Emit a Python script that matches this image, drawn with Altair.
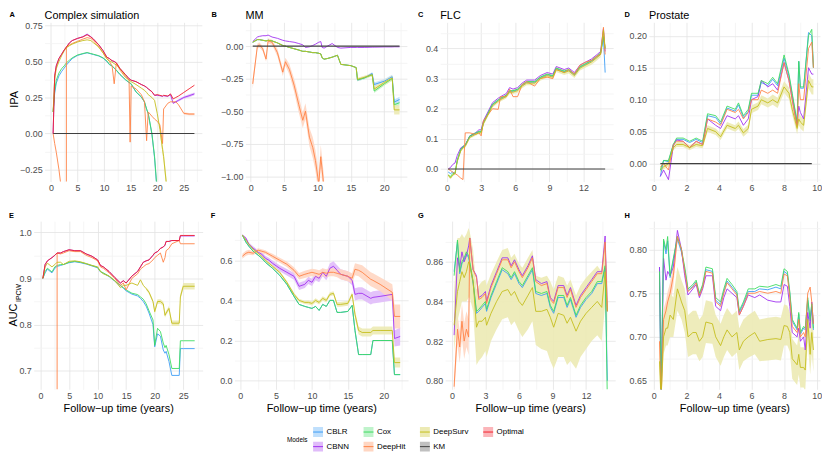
import json
import altair as alt
import pandas as pd

FONT = "Liberation Sans"
MODELS = ["CBLR", "CBNN", "Cox", "DeepHit", "DeepSurv", "KM", "Optimal"]
COLORS = ["#3d9df5", "#a030f0", "#3ddc60", "#ff8245", "#c4be1c", "#404040", "#f2202c"]
LEGEND_ORDER = ["CBLR", "Cox", "DeepSurv", "Optimal", "CBNN", "DeepHit", "KM"]
XTITLE = "Follow\u2212up time (years)"

# ---------------- Panel A : Complex simulation, IPA ----------------
T_A = [0.4, 0.7, 1.0, 1.5, 2.0, 2.5, 2.9, 2.9, 3.5, 4.0, 5.0, 6.0, 6.8, 7.5, 8.0, 9.0, 9.8, 10.5, 11.0, 11.5,
       11.9, 12.3, 13.0, 14.0, 14.7, 14.9, 15.1, 16.0, 17.0, 17.6, 18.0, 18.3, 19.0, 19.5, 20.0, 20.5, 21.0, 21.2,
       22.0, 22.5, 23.0, 23.5, 24.0, 25.0, 26.0, 27.0]
A_OPT = [0.0, 0.40, 0.47, 0.52, 0.55, 0.58, 0.60, 0.60, 0.63, 0.645, 0.66, 0.67, 0.685, 0.67, 0.655, 0.615, 0.575,
         0.53, 0.52, 0.505, 0.50, 0.49, 0.45, 0.41, 0.38, 0.375, 0.37, 0.36, 0.34, 0.33, 0.32, 0.31, 0.29, 0.265,
         0.27, 0.265, 0.26, 0.265, 0.26, 0.275, 0.24, 0.25, 0.26, 0.285, 0.31, 0.335]
A_CBNN = [0.0, 0.40, 0.47, 0.52, 0.55, 0.58, 0.60, 0.60, 0.63, 0.645, 0.66, 0.672, 0.69, 0.672, 0.655, 0.615, 0.575,
          0.53, 0.52, 0.505, 0.50, 0.49, 0.45, 0.41, 0.38, 0.375, 0.37, 0.36, 0.34, 0.33, 0.32, 0.31, 0.29, 0.265,
          0.265, 0.262, 0.258, 0.262, 0.258, 0.27, 0.21, 0.22, 0.23, 0.25, 0.262, 0.275]
A_COX = [0.15, 0.30, 0.37, 0.42, 0.45, 0.47, 0.49, 0.49, 0.51, 0.525, 0.545, 0.555, 0.562, 0.555, 0.55, 0.54, 0.525,
         0.505, 0.48, 0.47, 0.455, 0.44, 0.41, 0.375, 0.355, 0.35, 0.345, 0.29, 0.255, 0.22, 0.17, 0.14, 0.0, -0.16,
         -0.40, None, None, None, None, None, None, None, None, None, None, None]
A_CBLR = [0.15, 0.28, 0.35, 0.40, 0.43, 0.455, 0.475, 0.475, 0.50, 0.52, 0.542, 0.553, 0.56, 0.553, 0.548, 0.538,
          0.523, 0.50, 0.478, 0.468, 0.453, 0.438, 0.408, 0.373, 0.353, 0.348, 0.343, 0.288, 0.253, 0.218, 0.168,
          0.138, -0.005, -0.17, -0.42, None, None, None, None, None, None, None, None, None, None, None]
A_DS = [0.15, 0.38, 0.45, 0.50, 0.54, 0.575, 0.595, 0.595, 0.61, 0.62, 0.635, 0.645, 0.65, 0.645, 0.63, 0.60, 0.56,
        0.52, 0.505, 0.495, 0.485, 0.475, 0.45, 0.40, 0.37, 0.365, 0.36, 0.34, 0.315, 0.30, 0.285, 0.27, 0.25, 0.23,
        0.14, 0.03, -0.11, -0.16, -0.45, None, None, None, None, None, None, None]
A_DH = [0.0, -0.07, -0.13, -0.25, -0.40, -0.55, -0.60, 0.60, 0.615, 0.625, 0.64, 0.655, 0.665, 0.66, 0.645, 0.60,
        0.56, 0.52, 0.50, 0.47, 0.345, 0.49, 0.44, 0.39, 0.37, -0.06, 0.33, 0.31, 0.27, 0.22, -0.05, 0.15, 0.12,
        0.10, 0.085, 0.06, -0.07, 0.17, 0.21, 0.22, 0.22, 0.22, 0.20, 0.14, 0.135, 0.135]
A_KM_T = [0.4, 27.0]
A_KM = [0.0, 0.0]
A_CBNN_HW = [0.004, 0.006, 0.007, 0.008, 0.009, 0.01, 0.01]          # from index 39
A_DS_HW = [0.03, 0.03, 0.04, 0.05]                                    # from index 35
A_DH_HW = [0.008, 0.008, 0.008]                                       # from index 43

# ---------------- Panel B : MM, IPA ----------------
T_B = [0.3, 1.0, 1.3, 1.8, 2.3, 2.6, 3.2, 4.0, 4.8, 5.2, 5.8, 6.5, 7.2, 7.8, 8.2, 8.8, 9.3, 9.7, 10.2, 10.5, 10.7,
       11.0, 11.5, 12.2, 13.0, 13.5, 15.0, 15.8, 16.0, 17.0, 18.2, 18.5, 20.0, 21.2, 21.5, 22.3]
B_CBNN = [0.035, 0.07, 0.075, 0.08, 0.08, 0.085, 0.07, 0.06, 0.045, 0.04, 0.035, 0.03, 0.02, 0.01, -0.01, -0.005,
          0.005, 0.015, 0.03, 0.035, -0.01, -0.015, 0.0, 0.02, -0.01, -0.015, -0.01, -0.01, -0.01, -0.01, -0.008,
          -0.008, -0.006, -0.006, -0.005, -0.005]
B_COX = [0.03, 0.05, 0.05, 0.045, 0.04, 0.045, 0.04, 0.025, 0.005, 0.0, -0.01, -0.02, -0.03, -0.04, -0.04, -0.045,
         -0.05, -0.05, -0.055, -0.06, -0.09, -0.10, -0.095, -0.085, -0.07, -0.14, -0.15, -0.165, -0.26, -0.245,
         -0.22, -0.345, -0.29, -0.25, -0.45, -0.435]
B_CBLR = [0.03, 0.05, 0.05, 0.045, 0.04, 0.045, 0.04, 0.025, 0.005, 0.0, -0.01, -0.02, -0.03, -0.04, -0.04, -0.045,
          -0.05, -0.05, -0.055, -0.06, -0.09, -0.10, -0.095, -0.085, -0.07, -0.14, -0.15, -0.165, -0.26, -0.245,
          -0.21, -0.295, -0.27, -0.235, -0.43, -0.41]
B_DS = [0.03, 0.05, 0.05, 0.045, 0.04, 0.045, 0.04, 0.025, 0.005, 0.0, -0.01, -0.02, -0.03, -0.04, -0.04, -0.045,
        -0.05, -0.05, -0.055, -0.06, -0.09, -0.10, -0.095, -0.085, -0.07, -0.14, -0.15, -0.165, -0.255, -0.24,
        -0.22, -0.33, -0.28, -0.245, -0.49, -0.49]
B_DH = [-0.29, 0.0, 0.01, -0.02, -0.10, 0.04, 0.03, -0.05, -0.20, -0.12, -0.18, -0.30, -0.45, -0.57, -0.50, -0.70,
        -0.78, -0.88, -1.06, -0.85, -0.95, -1.10, None, None, None, None, None, None, None, None, None, None, None,
        None, None, None]
B_DH_HW = [0.04, 0.02, 0.02, 0.02, 0.02, 0.02, 0.02, 0.03, 0.03, 0.03, 0.04, 0.05, 0.06, 0.06, 0.06, 0.07, 0.08,
           0.08, 0.09, 0.09, 0.09, 0.09]                              # from index 0
B_COX_HW = [0.01, 0.01, 0.01, 0.015, 0.015, 0.015, 0.02, 0.02]        # from index 28
B_DS_HW = [0.012, 0.012, 0.012, 0.02, 0.02, 0.02, 0.035, 0.035]       # from index 28
B_KM_T = [0.3, 22.3]
B_KM = [0.0, 0.0]

# ---------------- Panel C : FLC, IPA ----------------
T_C = [0.1, 0.3, 0.5, 0.7, 0.9, 1.2, 1.4, 1.6, 2.0, 2.5, 2.8, 3.0, 3.2, 3.6, 4.0, 4.5, 4.7, 5.2, 5.5, 5.8, 6.2, 6.6,
       7.0, 7.7, 8.2, 8.8, 9.3, 9.6, 10.3, 10.7, 11.2, 11.7, 12.2, 12.7, 13.2, 13.5, 13.75, 13.9]
C_CBNN = [0.0, 0.005, 0.015, 0.02, 0.045, 0.07, 0.075, 0.08, 0.11, 0.12, 0.13, 0.13, 0.16, 0.19, 0.22, 0.235, 0.24,
          0.25, 0.27, 0.265, 0.27, 0.285, 0.295, 0.295, 0.31, 0.32, 0.315, 0.34, 0.33, 0.335, 0.32, 0.345, 0.355,
          0.365, 0.38, 0.39, 0.465, 0.39]
C_COX = [-0.02, -0.025, -0.015, -0.015, 0.03, 0.065, 0.075, 0.08, 0.11, 0.12, 0.125, 0.125, 0.155, 0.185, 0.215,
         0.23, 0.235, 0.245, 0.26, 0.26, 0.265, 0.28, 0.29, 0.29, 0.305, 0.315, 0.31, 0.335, 0.325, 0.33, 0.315,
         0.34, 0.35, 0.36, 0.375, 0.385, 0.44, 0.40]
C_CBLR = [-0.01, -0.015, -0.01, -0.015, 0.028, 0.063, 0.073, 0.078, 0.108, 0.118, 0.123, 0.123, 0.153, 0.183,
          0.213, 0.228, 0.233, 0.243, 0.258, 0.258, 0.263, 0.278, 0.288, 0.288, 0.303, 0.313, 0.308, 0.333, 0.323,
          0.328, 0.313, 0.338, 0.348, 0.358, 0.373, 0.383, 0.435, 0.32]
C_DS = [-0.02, -0.03, -0.02, -0.015, 0.025, 0.06, 0.07, 0.075, 0.105, 0.115, 0.12, 0.12, 0.15, 0.18, 0.21, 0.225,
        0.23, 0.24, 0.255, 0.255, 0.26, 0.275, 0.285, 0.285, 0.30, 0.31, 0.305, 0.33, 0.32, 0.325, 0.31, 0.335,
        0.345, 0.355, 0.37, 0.38, 0.46, 0.40]
C_DS_HW = [0.004, 0.004, 0.004, 0.004, 0.004, 0.004, 0.004, 0.004, 0.005, 0.005, 0.005, 0.005, 0.005, 0.006,
           0.006, 0.006, 0.006, 0.006, 0.006, 0.006, 0.007, 0.007, 0.007, 0.007, 0.007, 0.007, 0.007, 0.008, 0.008,
           0.008, 0.008, 0.008, 0.008, 0.009, 0.009, 0.009, 0.012, 0.012]
C_DH = [0.0, -0.005, -0.01, -0.015, -0.02, -0.03, -0.035, 0.12, 0.12, 0.115, 0.12, 0.11, 0.16, 0.18, 0.20, 0.198,
        0.24, 0.24, 0.265, 0.24, 0.24, 0.28, 0.29, 0.275, 0.30, 0.305, 0.30, 0.33, 0.32, 0.33, 0.315, 0.345, 0.355,
        0.36, 0.375, 0.38, 0.47, 0.38]
C_KM_T = [0.1, 13.9]
C_KM = [0.0, 0.0]

# ---------------- Panel D : Prostate, IPA ----------------
T_D = [0.4, 0.6, 0.9, 1.2, 1.4, 1.8, 2.2, 2.6, 3.0, 3.3, 3.8, 4.1, 4.5, 5.0, 5.2, 5.5, 5.8, 6.0, 6.4, 6.6, 7.0, 7.3,
       7.6, 8.0, 8.3, 8.5, 8.8, 8.9, 9.0, 9.2, 9.5, 9.7, 9.8]
D_COX = [-0.01, 0.005, 0.005, 0.03, 0.04, 0.04, 0.035, 0.04, 0.035, 0.078, 0.075, 0.065, 0.09, 0.085, 0.095, 0.075,
         0.085, 0.11, 0.11, 0.13, 0.125, 0.135, 0.125, 0.17, 0.14, 0.11, 0.065, 0.16, 0.12, 0.12, 0.20, 0.21, 0.15]
D_CBLR = [-0.02, 0.005, 0.003, 0.03, 0.038, 0.038, 0.033, 0.038, 0.033, 0.075, 0.072, 0.062, 0.087, 0.082, 0.092,
          0.072, 0.082, 0.107, 0.107, 0.127, 0.122, 0.132, 0.122, 0.165, 0.137, 0.107, 0.063, 0.16, 0.118, 0.118,
          0.205, 0.20, 0.15]
D_CBNN = [-0.02, -0.01, -0.025, 0.028, 0.037, 0.035, 0.025, 0.035, 0.03, 0.07, 0.06, 0.055, 0.075, 0.07, 0.075,
          0.06, 0.07, 0.10, 0.105, 0.13, 0.12, 0.125, 0.115, 0.158, 0.13, 0.10, 0.06, 0.09, 0.08, 0.07, 0.15, 0.14,
          0.14]
D_DH = [-0.005, 0.0, -0.01, 0.03, 0.035, 0.035, 0.025, 0.035, 0.03, 0.07, 0.065, 0.06, 0.085, 0.08, 0.085, 0.07,
        0.08, 0.10, 0.10, 0.115, 0.11, 0.115, 0.11, 0.158, 0.13, 0.10, 0.058, 0.125, 0.10, 0.10, 0.18, 0.19, 0.15]
D_DS = [-0.01, -0.005, 0.0, 0.025, 0.03, 0.03, 0.025, 0.03, 0.028, 0.055, 0.05, 0.042, 0.06, 0.055, 0.06, 0.048,
        0.055, 0.085, 0.09, 0.10, 0.095, 0.10, 0.095, 0.12, 0.11, 0.085, 0.055, 0.07, 0.065, 0.06, 0.13, 0.12, 0.12]
D_DS_HW = [0.004, 0.004, 0.004, 0.004, 0.004, 0.004, 0.004, 0.004, 0.004, 0.005, 0.005, 0.005, 0.005, 0.005, 0.006,
           0.006, 0.006, 0.006, 0.006, 0.007, 0.007, 0.008, 0.008, 0.009, 0.009, 0.009, 0.009, 0.01, 0.01, 0.01,
           0.012, 0.012, 0.012]
D_KM_T = [0.4, 9.7]
D_KM = [0.0, 0.0]

# ---------------- Panel E : Complex simulation, AUC ----------------
T_E = [0.4, 0.8, 1.2, 2.0, 2.5, 2.9, 2.9, 3.5, 4.0, 5.0, 6.0, 7.0, 8.0, 9.0, 10.0, 10.5, 11.0, 12.0, 13.0, 14.0,
       14.5, 15.0, 16.0, 17.0, 17.5, 18.0, 18.5, 19.0, 19.7, 20.0, 20.5, 21.0, 21.5, 21.8, 22.0, 22.5, 23.0, 24.3,
       24.5, 25.0, 27.0]
E_OPT = [0.90, 0.93, 0.938, 0.945, 0.95, 0.955, 0.955, 0.955, 0.958, 0.962, 0.96, 0.96, 0.953, 0.948, 0.94, 0.928,
         0.925, 0.915, 0.902, 0.89, 0.895, 0.89, 0.905, 0.915, 0.925, 0.935, 0.938, 0.94, 0.95, 0.955, 0.958, 0.965,
         0.968, 0.972, 0.98, 0.98, 0.982, 0.982, 0.993, 0.993, 0.993]
E_CBNN = [0.90, 0.93, 0.938, 0.945, 0.95, 0.955, 0.955, 0.955, 0.958, 0.962, 0.96, 0.96, 0.953, 0.948, 0.94, 0.928,
          0.925, 0.915, 0.902, 0.89, 0.895, 0.89, 0.905, 0.915, 0.925, 0.935, 0.938, 0.94, 0.95, 0.955, 0.958,
          0.965, 0.968, 0.972, 0.98, 0.98, 0.982, 0.982, 0.992, 0.992, 0.992]
E_DH = [None, None, None, None, None, 0.60, 0.955, 0.953, 0.955, 0.96, 0.958, 0.958, 0.95, 0.945, 0.938, 0.925,
        0.922, 0.912, 0.90, 0.885, 0.89, 0.875, 0.90, 0.91, 0.92, 0.925, 0.93, 0.932, 0.94, 0.945, 0.95, 0.955,
        0.935, 0.945, 0.96, 0.965, 0.975, 0.982, 0.975, 0.975, 0.975]
E_DS = [0.90, 0.925, 0.933, 0.925, 0.93, 0.935, 0.935, 0.935, 0.93, 0.937, 0.938, 0.936, 0.932, 0.928, 0.925, 0.915,
        0.91, 0.905, 0.895, 0.88, 0.885, 0.885, 0.89, 0.885, 0.897, 0.885, 0.878, 0.87, 0.85, 0.828, 0.85, 0.85,
        0.845, 0.82, 0.825, 0.835, 0.803, 0.803, 0.86, 0.883, 0.883]
E_DS_HW = [0.003, 0.004, 0.004, 0.005, 0.005, 0.005, 0.005, 0.005, 0.005, 0.005, 0.006, 0.006, 0.006, 0.007, 0.007]
E_COX = [0.90, 0.915, 0.922, 0.914, 0.925, 0.928, 0.928, 0.93, 0.93, 0.935, 0.937, 0.935, 0.932, 0.928, 0.924,
         0.915, 0.912, 0.905, 0.895, 0.885, 0.88, 0.875, 0.868, 0.865, 0.86, 0.855, 0.845, 0.83, 0.81, 0.755, 0.792,
         0.785, 0.76, 0.75, 0.755, 0.735, 0.705, 0.705, 0.765, 0.765, 0.765]
E_CBLR = [0.90, 0.912, 0.92, 0.912, 0.922, 0.926, 0.926, 0.928, 0.93, 0.934, 0.936, 0.934, 0.931, 0.927, 0.923,
          0.914, 0.911, 0.904, 0.894, 0.884, 0.879, 0.873, 0.866, 0.862, 0.857, 0.85, 0.84, 0.825, 0.80, 0.752,
          0.78, 0.775, 0.745, 0.738, 0.742, 0.72, 0.69, 0.69, 0.748, 0.748, 0.748]

# ---------------- Panel F : MM, AUC ----------------
T_F = [0.3, 0.8, 1.2, 1.8, 2.5, 3.0, 3.5, 4.0, 4.5, 5.5, 6.5, 7.5, 8.2, 9.0, 9.5, 10.0, 10.5, 11.0, 11.5, 12.0,
       12.5, 13.0, 13.5, 14.0, 15.0, 15.6, 16.0, 16.5, 17.0, 18.2, 18.5, 19.5, 21.2, 21.5, 22.3]
F_CBNN = [0.725, 0.71, 0.68, 0.66, 0.64, 0.63, 0.61, 0.60, 0.585, 0.56, 0.54, 0.52, 0.47, 0.48, 0.50, 0.49, 0.52,
          0.51, 0.54, 0.52, 0.56, 0.57, 0.55, 0.53, 0.52, 0.50, 0.43, 0.435, 0.435, 0.41, 0.415, 0.42, 0.43, 0.21,
          0.22]
F_CBNN_HW = [0.005, 0.005, 0.008, 0.01, 0.01, 0.012, 0.012, 0.012, 0.014, 0.015, 0.016, 0.017, 0.018, 0.018, 0.018,
             0.018, 0.02, 0.02, 0.02, 0.02, 0.025, 0.025, 0.025, 0.025, 0.025, 0.025, 0.03, 0.03, 0.03, 0.03, 0.03,
             0.03, 0.03, 0.04, 0.045]
F_DH = [0.62, 0.635, 0.64, 0.635, 0.65, 0.645, 0.64, 0.63, 0.62, 0.60, 0.58, 0.55, 0.52, 0.53, 0.535, 0.54, 0.535,
        0.53, 0.54, 0.535, 0.54, 0.54, 0.535, 0.53, 0.52, 0.51, 0.555, 0.55, 0.54, 0.505, 0.50, 0.48, 0.44, 0.32,
        0.32]
F_DH_HW = [0.012, 0.012, 0.012, 0.01, 0.01, 0.01, 0.01, 0.01, 0.012, 0.012, 0.014, 0.015, 0.016, 0.018, 0.018,
           0.018, 0.02, 0.02, 0.02, 0.02, 0.02, 0.02, 0.02, 0.025, 0.025, 0.025, 0.03, 0.03, 0.035, 0.035, 0.035,
           0.035, 0.04, 0.06, 0.06]
F_DS = [0.725, 0.70, 0.68, 0.655, 0.635, 0.62, 0.60, 0.585, 0.57, 0.54, 0.49, 0.43, 0.40, 0.39, 0.39, 0.385, 0.40,
        0.39, 0.41, 0.40, 0.43, 0.435, 0.38, 0.38, 0.385, 0.43, 0.33, 0.25, 0.24, 0.24, 0.25, 0.25, 0.25, 0.09, 0.09]
F_DS_HW = [0.004, 0.004, 0.005, 0.005, 0.005, 0.005, 0.006, 0.006, 0.006, 0.007, 0.008, 0.008, 0.008, 0.008, 0.01,
           0.01, 0.01, 0.01, 0.01, 0.01, 0.01, 0.01, 0.012, 0.012, 0.012, 0.012, 0.02, 0.02, 0.02, 0.02, 0.02, 0.02,
           0.02, 0.025, 0.025]
F_COX = [0.725, 0.69, 0.67, 0.645, 0.625, 0.61, 0.59, 0.575, 0.56, 0.525, 0.48, 0.42, 0.38, 0.37, 0.365, 0.36, 0.37,
         0.35, 0.38, 0.37, 0.40, 0.40, 0.34, 0.34, 0.345, 0.375, 0.25, 0.13, 0.13, 0.13, 0.20, 0.20, 0.20, 0.03, 0.03]
F_CBLR = [0.725, 0.69, 0.67, 0.645, 0.625, 0.61, 0.59, 0.575, 0.56, 0.525, 0.48, 0.42, 0.38, 0.37, 0.365, 0.36,
          0.37, 0.35, 0.38, 0.37, 0.40, 0.40, 0.34, 0.34, 0.345, 0.375, 0.25, 0.13, 0.13, 0.13, 0.20, 0.20, 0.20,
          0.03, 0.03]

# ---------------- Panel G : FLC, AUC ----------------
T_G = [0.2, 0.5, 0.7, 0.9, 1.1, 1.3, 1.5, 1.6, 1.9, 2.2, 2.4, 2.7, 3.0, 3.1, 3.5, 4.0, 4.5, 5.0, 5.3, 5.6, 6.0, 6.3,
       6.8, 7.2, 7.5, 8.0, 8.5, 8.8, 9.1, 9.5, 10.0, 10.3, 10.6, 11.1, 11.5, 12.0, 12.5, 13.0, 13.4, 13.7, 13.9]
G_CBNN = [0.823, 0.862, 0.857, 0.865, 0.86, 0.863, 0.868, 0.872, 0.856, 0.853, 0.842, 0.843, 0.845, 0.840, 0.848,
          0.855, 0.862, 0.862, 0.858, 0.861, 0.856, 0.853, 0.858, 0.863, 0.851, 0.849, 0.850, 0.842, 0.840, 0.848,
          0.848, 0.843, 0.847, 0.838, 0.843, 0.847, 0.851, 0.855, 0.855, 0.873, 0.835]
G_DH = [0.797, 0.826, 0.817, 0.83, 0.82, 0.826, 0.822, 0.872, 0.856, 0.852, 0.841, 0.842, 0.844, 0.839, 0.847, 0.854,
        0.861, 0.861, 0.857, 0.86, 0.855, 0.852, 0.857, 0.862, 0.850, 0.848, 0.849, 0.841, 0.839, 0.847, 0.847,
        0.842, 0.846, 0.837, 0.842, 0.846, 0.850, 0.854, 0.854, 0.870, 0.835]
G_DH_HW = [0.004, 0.008, 0.008, 0.009, 0.009, 0.009, 0.009, 0.002]
G_COX = [0.853, 0.871, 0.855, 0.86, 0.862, 0.865, 0.863, 0.86, 0.85, 0.835, 0.836, 0.838, 0.84, 0.836, 0.843, 0.85,
         0.857, 0.855, 0.852, 0.855, 0.85, 0.848, 0.853, 0.857, 0.845, 0.844, 0.845, 0.838, 0.835, 0.843, 0.843,
         0.838, 0.842, 0.833, 0.838, 0.842, 0.845, 0.85, 0.85, 0.858, 0.79]
G_CBLR = [0.855, 0.87, 0.854, 0.859, 0.861, 0.864, 0.862, 0.859, 0.849, 0.834, 0.835, 0.837, 0.839, 0.835, 0.842,
          0.849, 0.856, 0.854, 0.851, 0.854, 0.849, 0.847, 0.852, 0.856, 0.844, 0.843, 0.844, 0.837, 0.834, 0.842,
          0.842, 0.837, 0.841, 0.832, 0.837, 0.841, 0.844, 0.849, 0.849, 0.857, 0.80]
G_DS = [0.828, 0.845, 0.85, 0.855, 0.852, 0.855, 0.86, 0.858, 0.85, 0.827, 0.83, 0.83, 0.832, 0.828, 0.834, 0.84,
        0.845, 0.846, 0.843, 0.845, 0.84, 0.838, 0.843, 0.847, 0.835, 0.835, 0.836, 0.832, 0.827, 0.834, 0.833,
        0.829, 0.832, 0.825, 0.83, 0.834, 0.837, 0.84, 0.837, 0.855, 0.835]
G_DS_LO = [0.815, 0.83, 0.835, 0.84, 0.84, 0.84, 0.842, 0.842, 0.835, 0.808, 0.81, 0.812, 0.815, 0.812, 0.82, 0.826,
           0.831, 0.832, 0.828, 0.83, 0.825, 0.822, 0.826, 0.83, 0.818, 0.816, 0.815, 0.81, 0.806, 0.812, 0.812,
           0.808, 0.81, 0.806, 0.812, 0.816, 0.82, 0.823, 0.82, 0.838, 0.82]
G_DS_HI = [0.845, 0.872, 0.872, 0.874, 0.872, 0.874, 0.877, 0.875, 0.866, 0.846, 0.848, 0.85, 0.851, 0.848, 0.854,
           0.86, 0.866, 0.867, 0.862, 0.864, 0.859, 0.857, 0.862, 0.866, 0.853, 0.852, 0.853, 0.85, 0.846, 0.853,
           0.852, 0.848, 0.851, 0.843, 0.848, 0.852, 0.855, 0.858, 0.855, 0.87, 0.85]

# ---------------- Panel H : Prostate, AUC ----------------
T_H = [0.35, 0.45, 0.6, 0.75, 0.85, 1.0, 1.2, 1.45, 1.7, 1.9, 2.1, 2.4, 2.6, 2.8, 3.0, 3.2, 3.6, 3.8, 4.1, 4.3, 4.5,
       4.8, 5.1, 5.25, 5.5, 5.8, 6.2, 6.5, 7.0, 7.5, 7.8, 8.0, 8.2, 8.35, 8.5, 8.8, 8.9, 9.0, 9.2, 9.3, 9.45, 9.6,
       9.7, 9.8]
H_COX = [0.775, 0.63, 0.812, 0.80, 0.815, 0.77, 0.79, 0.815, 0.80, 0.78, 0.755, 0.76, 0.765, 0.75, 0.76, 0.78,
         0.778, 0.745, 0.74, 0.755, 0.767, 0.76, 0.752, 0.73, 0.74, 0.755, 0.755, 0.758, 0.757, 0.76, 0.758, 0.778,
         0.775, 0.752, 0.72, 0.71, 0.728, 0.705, 0.712, 0.71, 0.745, 0.72, 0.738, 0.71]
H_CBLR = [0.78, 0.63, 0.81, 0.795, 0.81, 0.768, 0.788, 0.812, 0.797, 0.777, 0.753, 0.758, 0.763, 0.748, 0.758,
          0.777, 0.775, 0.742, 0.737, 0.752, 0.764, 0.757, 0.75, 0.728, 0.738, 0.752, 0.752, 0.755, 0.754, 0.757,
          0.755, 0.775, 0.772, 0.75, 0.718, 0.708, 0.726, 0.703, 0.71, 0.708, 0.742, 0.718, 0.735, 0.708]
H_CBNN = [0.78, 0.63, 0.79, 0.765, 0.775, 0.77, 0.78, 0.822, 0.80, 0.77, 0.748, 0.755, 0.76, 0.745, 0.755, 0.77,
          0.77, 0.735, 0.73, 0.745, 0.755, 0.75, 0.745, 0.725, 0.735, 0.748, 0.745, 0.748, 0.742, 0.74, 0.74, 0.76,
          0.758, 0.735, 0.705, 0.70, 0.71, 0.695, 0.70, 0.685, 0.728, 0.71, 0.74, 0.715]
H_DH = [0.695, 0.63, 0.72, 0.73, 0.74, 0.75, 0.77, 0.815, 0.80, 0.775, 0.752, 0.757, 0.762, 0.747, 0.757, 0.775,
        0.773, 0.74, 0.735, 0.75, 0.762, 0.755, 0.748, 0.725, 0.735, 0.75, 0.75, 0.752, 0.75, 0.752, 0.75, 0.772,
        0.77, 0.745, 0.712, 0.705, 0.72, 0.70, 0.705, 0.70, 0.75, 0.757, 0.74, 0.715]
H_DH_HW = [0.008, 0.006, 0.012, 0.012, 0.012, 0.012, 0.012, 0.004]
H_DS = [0.672, 0.63, 0.70, 0.71, 0.71, 0.725, 0.72, 0.755, 0.74, 0.73, 0.70, 0.705, 0.705, 0.695, 0.70, 0.717,
        0.715, 0.70, 0.69, 0.70, 0.708, 0.70, 0.705, 0.685, 0.695, 0.70, 0.705, 0.695, 0.697, 0.698, 0.697, 0.713,
        0.712, 0.705, 0.675, 0.668, 0.68, 0.665, 0.665, 0.662, 0.72, 0.68, 0.705, 0.685]
H_DS_LO = [0.65, 0.62, 0.68, 0.69, 0.69, 0.70, 0.70, 0.73, 0.72, 0.705, 0.677, 0.68, 0.68, 0.672, 0.677, 0.693,
           0.692, 0.677, 0.667, 0.677, 0.685, 0.677, 0.682, 0.662, 0.672, 0.676, 0.68, 0.672, 0.673, 0.674, 0.673,
           0.69, 0.69, 0.683, 0.652, 0.645, 0.657, 0.642, 0.642, 0.638, 0.695, 0.657, 0.68, 0.66]
H_DS_HI = [0.695, 0.64, 0.725, 0.735, 0.735, 0.75, 0.745, 0.78, 0.765, 0.755, 0.725, 0.73, 0.73, 0.72, 0.725, 0.742,
           0.74, 0.725, 0.715, 0.725, 0.733, 0.725, 0.73, 0.71, 0.72, 0.725, 0.73, 0.72, 0.722, 0.723, 0.722, 0.737,
           0.736, 0.728, 0.698, 0.69, 0.703, 0.688, 0.688, 0.686, 0.745, 0.703, 0.73, 0.71]

XM_AE = ([0, 5, 10, 15, 20, 25], [2.5, 7.5, 12.5, 17.5, 22.5, 27.5])
XM_BF = ([0, 5, 10, 15, 20], [2.5, 7.5, 12.5, 17.5, 22.5])
XM_CG = ([0, 3, 6, 9, 12], [1.5, 4.5, 7.5, 10.5, 13.5])
XM_DH = ([0, 2, 4, 6, 8, 10], [1, 3, 5, 7, 9])

PANELS = [
    dict(tag="A", title="Complex simulation", row=0, left=43.5, width=159.0, xdom=[-1.2, 28.4], xt=XM_AE,
         ydom=[-0.3335, 0.7716], yt=([-0.25, 0, 0.25, 0.5, 0.75], [-0.125, 0.125, 0.375, 0.625]), yfmt=".2f",
         series={"CBLR": (T_A, A_CBLR), "CBNN": (T_A, A_CBNN), "Cox": (T_A, A_COX), "DeepHit": (T_A, A_DH),
                 "DeepSurv": (T_A, A_DS), "KM": (A_KM_T, A_KM), "Optimal": (T_A, A_OPT)},
         bands=[("CBNN", 39, A_CBNN_HW), ("DeepSurv", 35, A_DS_HW), ("DeepHit", 43, A_DH_HW)]),
    dict(tag="B", title="MM", row=0, left=246.3, width=163.3, xdom=[-0.8, 23.4], xt=XM_BF,
         ydom=[-1.041, 0.183], yt=([-1.0, -0.75, -0.5, -0.25, 0], [-0.875, -0.625, -0.375, -0.125, 0.125]),
         yfmt=".2f",
         series={"CBLR": (T_B, B_CBLR), "CBNN": (T_B, B_CBNN), "Cox": (T_B, B_COX), "DeepHit": (T_B, B_DH),
                 "DeepSurv": (T_B, B_DS), "KM": (B_KM_T, B_KM)},
         bands=[("DeepHit", 0, B_DH_HW), ("Cox", 28, B_COX_HW), ("CBLR", 28, B_COX_HW), ("DeepSurv", 28, B_DS_HW)]),
    dict(tag="C", title="FLC", row=0, left=442.4, width=174.8, xdom=[-0.6, 14.6], xt=XM_CG,
         ydom=[-0.0416, 0.4866], yt=([0, 0.1, 0.2, 0.3, 0.4], [0.05, 0.15, 0.25, 0.35, 0.45]), yfmt=".1f",
         series={"CBLR": (T_C, C_CBLR), "CBNN": (T_C, C_CBNN), "Cox": (T_C, C_COX), "DeepHit": (T_C, C_DH),
                 "DeepSurv": (T_C, C_DS), "KM": (C_KM_T, C_KM)},
         bands=[("DeepSurv", 0, C_DS_HW)]),
    dict(tag="D", title="Prostate", row=0, left=652.8, width=172.9, xdom=[-0.3, 10.2], xt=XM_DH,
         ydom=[-0.028, 0.221], yt=([0, 0.05, 0.1, 0.15, 0.2], [-0.025, 0.025, 0.075, 0.125, 0.175]), yfmt=".2f",
         series={"CBLR": (T_D, D_CBLR), "CBNN": (T_D, D_CBNN), "Cox": (T_D, D_COX), "DeepHit": (T_D, D_DH),
                 "DeepSurv": (T_D, D_DS), "KM": (D_KM_T, D_KM)},
         bands=[("DeepSurv", 0, D_DS_HW)]),
    dict(tag="E", title=None, row=1, left=33.1, width=170.8, xdom=[-1.2, 28.4], xt=XM_AE,
         ydom=[0.660, 1.024], yt=([0.7, 0.8, 0.9, 1.0], [0.75, 0.85, 0.95]), yfmt=".1f",
         series={"CBLR": (T_E, E_CBLR), "CBNN": (T_E, E_CBNN), "Cox": (T_E, E_COX), "DeepHit": (T_E, E_DH),
                 "DeepSurv": (T_E, E_DS), "Optimal": (T_E, E_OPT)},
         bands=[("DeepSurv", 26, E_DS_HW)]),
    dict(tag="F", title=None, row=1, left=235.9, width=175.5, xdom=[-0.8, 23.4], xt=XM_BF,
         ydom=[-0.043, 0.795], yt=([0, 0.2, 0.4, 0.6], [0.1, 0.3, 0.5, 0.7]), yfmt=".1f",
         series={"CBLR": (T_F, F_CBLR), "CBNN": (T_F, F_CBNN), "Cox": (T_F, F_COX), "DeepHit": (T_F, F_DH),
                 "DeepSurv": (T_F, F_DS)},
         bands=[("CBNN", 0, F_CBNN_HW), ("DeepHit", 0, F_DH_HW), ("DeepSurv", 0, F_DS_HW)]),
    dict(tag="G", title=None, row=1, left=447.5, width=171.9, xdom=[-0.6, 14.6], xt=XM_CG,
         ydom=[0.7957, 0.8805], yt=([0.80, 0.82, 0.84, 0.86], [0.81, 0.83, 0.85, 0.87]), yfmt=".2f",
         series={"CBLR": (T_G, G_CBLR), "CBNN": (T_G, G_CBNN), "Cox": (T_G, G_COX), "DeepHit": (T_G, G_DH),
                 "DeepSurv": (T_G, G_DS)},
         bands=[("DeepHit", 0, G_DH_HW), ("DeepSurv", T_G, G_DS_LO, G_DS_HI)]),
    dict(tag="H", title=None, row=1, left=652.8, width=172.9, xdom=[-0.3, 10.2], xt=XM_DH,
         ydom=[0.640, 0.8326], yt=([0.65, 0.70, 0.75, 0.80], [0.675, 0.725, 0.775, 0.825]), yfmt=".2f",
         series={"CBLR": (T_H, H_CBLR), "CBNN": (T_H, H_CBNN), "Cox": (T_H, H_COX), "DeepHit": (T_H, H_DH),
                 "DeepSurv": (T_H, H_DS)},
         bands=[("DeepHit", 0, H_DH_HW), ("DeepSurv", T_H, H_DS_LO, H_DS_HI)]),
]

# ---------------- layout (page pixels) ----------------
X0 = 33.1
ROW_TOP = [20.0, 220.5]
ROW_H = [161, 170]
ROW_SPACING = 19
TAG_X = {"A": 8, "B": 212, "C": 420, "D": 628, "E": 8, "F": 212, "G": 420, "H": 628}
TAG_BASE = [14.5, 217.5]
LEG_X = 285 - 29
LEG_Y = 426.5 - 18

MAJOR_GRID = "#e3e3e3"
MINOR_GRID = "#f2f2f2"


def tint(hexcol, alpha):
    """Colour of `hexcol` laid over white with the given alpha (ribbon / key fill)."""
    h = hexcol.lstrip("#")
    rgb = [int(h[i:i + 2], 16) for i in (0, 2, 4)]
    return "#" + "".join("%02x" % round(alpha * c + (1 - alpha) * 255) for c in rgb)


FILL_COLORS = [tint(c, 0.33) for c in COLORS]


def make_axis(ticks, fmt, title=None):
    majors, minors = ticks
    vals = sorted(list(majors) + list(minors))
    test = "(" + " || ".join("datum.value == %s" % json.dumps(v) for v in majors) + ")"
    kw = dict(values=vals, format=fmt, labelExpr=test + " ? datum.label : ''",
              grid=True, gridColor={"condition": {"test": test, "value": MAJOR_GRID}, "value": MINOR_GRID},
              gridWidth=0.8, domain=False, ticks=False, labelFont=FONT, labelFontSize=9, labelColor="#4d4d4d",
              labelPadding=2.5, labelOverlap=False, labelFlush=False, labelBound=False)
    if title:
        kw.update(title=title, titleFont=FONT, titleFontSize=11, titleFontWeight="normal", titleColor="black",
                  titlePadding=2)
    return alt.Axis(**kw)


# one merged legend: tinted key square (fill) with the line through its middle (dashed stroke that
# only draws the first, horizontal segment of the key path)
KEY_PATH = "M-1,0H1V1H-1V-1H1V0"
LEGEND = alt.Legend(orient="none", legendX=LEG_X, legendY=LEG_Y, columns=4, values=LEGEND_ORDER, title="Models",
                    titleOrient="left", titleFont=FONT, titleFontSize=6.5, titleFontWeight="normal",
                    titleColor="black", titleAnchor="middle", titleBaseline="middle", titlePadding=5,
                    labelFont=FONT, labelFontSize=8, labelColor="black", labelOffset=3, symbolSize=100,
                    symbolType=KEY_PATH, symbolDash=[10, 200], symbolStrokeWidth=1.0,
                    rowPadding=0, columnPadding=12, direction="horizontal")
STROKE_SCALE = alt.Scale(domain=MODELS, range=COLORS)
FILL_SCALE = alt.Scale(domain=MODELS, range=FILL_COLORS)


def text_layer(txt, x, y, size, weight="normal", angle=0, align="left", baseline="alphabetic"):
    return alt.Chart(pd.DataFrame({"k": [0]})).mark_text(
        text=txt, font=FONT, fontSize=size, fontWeight=weight, angle=angle, align=align, baseline=baseline,
        color="black").encode(x=alt.value(x), y=alt.value(y))


def build_panel(p):
    row = p["row"]
    top = ROW_TOP[row]
    lrows = []
    for m in MODELS:
        if m not in p["series"]:
            continue
        t, v = p["series"][m]
        assert len(t) == len(v), (p["tag"], m, len(t), len(v))
        for i, (tt, vv) in enumerate(zip(t, v)):
            lrows.append({"model": m, "t": tt, "v": vv, "i": i})
    ldf = pd.DataFrame(lrows)
    brows = []
    for b in p["bands"]:
        if isinstance(b[1], int):
            m, start, hw = b
            t, v = p["series"][m]
            for k, h in enumerate(hw):
                brows.append({"model": m, "t": t[start + k], "lo": v[start + k] - h, "hi": v[start + k] + h})
        else:
            m, t, lo, hi = b
            assert len(t) == len(lo) == len(hi), (p["tag"], m)
            for tt, a, c in zip(t, lo, hi):
                brows.append({"model": m, "t": tt, "lo": a, "hi": c})
    bdf = pd.DataFrame(brows, columns=["model", "t", "lo", "hi"])

    xs = alt.Scale(domain=p["xdom"], nice=False, zero=False)
    ys = alt.Scale(domain=p["ydom"], nice=False, zero=False)
    xaxis = make_axis(p["xt"], "d", XTITLE if row == 1 else None)
    yaxis = make_axis(p["yt"], p["yfmt"])

    bands = alt.Chart(bdf).mark_area(fillOpacity=0.9, clip=True).encode(
        x=alt.X("t:Q", scale=xs, axis=xaxis, title=XTITLE if row == 1 else None),
        y=alt.Y("lo:Q", scale=ys, axis=yaxis, title=None),
        y2="hi:Q",
        fill=alt.Fill("model:N", scale=FILL_SCALE, legend=LEGEND),
    )
    lines = alt.Chart(ldf).mark_line(clip=True).encode(
        x=alt.X("t:Q", scale=xs, axis=xaxis, title=XTITLE if row == 1 else None),
        y=alt.Y("v:Q", scale=ys, axis=yaxis, title=None),
        stroke=alt.Stroke("model:N", scale=STROKE_SCALE, legend=LEGEND),
        strokeWidth=alt.condition(alt.datum.model == "KM", alt.value(1.1), alt.value(0.9)),
        order=alt.Order("i:Q"),
    )
    layers = [bands, lines,
              text_layer(p["tag"], TAG_X[p["tag"]] - p["left"], TAG_BASE[row] - top, 7.5, weight="bold")]
    if p["title"]:
        layers.append(text_layer(p["title"], 0, -3, 11))
    if p["tag"] == "A":
        layers.append(text_layer("IPA", 13.5 - p["left"], 98 - top, 11, angle=270, align="center",
                                 baseline="middle"))
    if p["tag"] == "E":
        layers.append(text_layer("AUC", 13.5 - p["left"], 315.5 - top, 11, angle=270, align="center",
                                 baseline="middle"))
        layers.append(text_layer("IPCW", 18.0 - p["left"], 293.1 - top, 7, angle=270, align="center",
                                 baseline="middle"))
    return alt.layer(*layers).properties(width=p["width"], height=ROW_H[row])


def spacer(w, h):
    return alt.Chart(pd.DataFrame({"k": [0]})).mark_point(opacity=0).properties(width=w, height=h)


rows = []
for r in range(2):
    cursor = X0
    row_cells = []
    for p in PANELS:
        if p["row"] != r:
            continue
        gap = p["left"] - cursor
        if gap > 0.05:
            row_cells.append(spacer(round(gap, 1), ROW_H[r]))
        row_cells.append(build_panel(p))
        cursor = p["left"] + p["width"]
    rows.append(alt.hconcat(*row_cells, spacing=0, bounds="flush"))

chart = alt.vconcat(*rows, spacing=ROW_SPACING)
chart = chart.properties(padding=0).configure(font=FONT).configure_view(strokeWidth=0)
chart.save("out.html", embed_options={"renderer": "svg", "actions": False})
